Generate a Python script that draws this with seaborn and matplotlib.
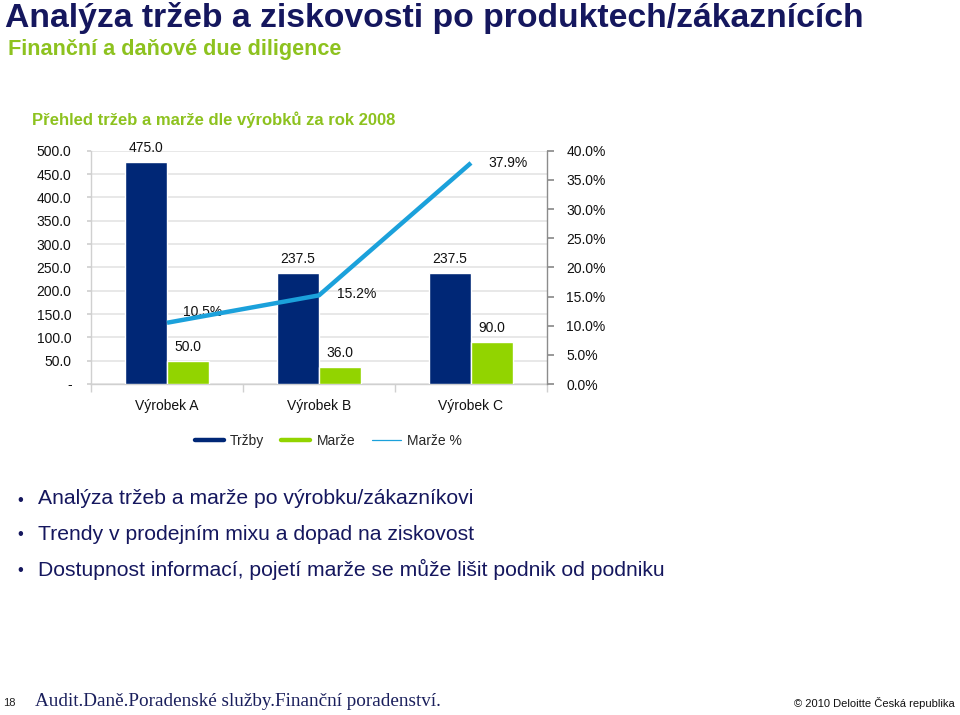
import matplotlib
matplotlib.use('Agg')
import matplotlib.pyplot as plt
from matplotlib.lines import Line2D
from matplotlib.ticker import FuncFormatter, MultipleLocator
import numpy as np
import pandas as pd
import seaborn as sns

# ---- data ----
products = ['Výrobek A', 'Výrobek B', 'Výrobek C']
trzby = [475.0, 237.5, 237.5]
marze = [50.0, 36.0, 90.0]
marze_pct = [10.5, 15.2, 37.9]
series_names = ['Tržby', 'Marže', 'Marže %']

title = 'Analýza tržeb a ziskovosti po produktech/zákaznících'
subtitle = 'Finanční a daňové due diligence'
heading = 'Přehled tržeb a marže dle výrobků za rok 2008'
bullets = ['Analýza tržeb a marže po výrobku/zákazníkovi',
           'Trendy v prodejním mixu a dopad na ziskovost',
           'Dostupnost informací, pojetí marže se může lišit podnik od podniku']
footer_left = 'Audit.Daně.Poradenské služby.Finanční poradenství.'
footer_right = '© 2010 Deloitte Česká republika'
page_no = '18'

# ---- style ----
NAVY = '#002776'
GREEN = '#92D400'
LINE = '#1BA1DB'
TITLE_C = '#15175E'
SUB_C = '#8DC21F'
TEXT_C = '#111111'

sns.set_theme(style='white')
plt.rcParams['font.family'] = ['Liberation Sans', 'DejaVu Sans']

W, H = 960, 715
fig = plt.figure(figsize=(W / 100, H / 100), dpi=100)
fig.patch.set_facecolor('white')

ax = fig.add_axes([91 / W, 1 - 384 / H, (547 - 91) / W, (384 - 150.7) / H])

df = pd.DataFrame({
    'Výrobek': products * 2,
    'Řada': [series_names[0]] * len(products) + [series_names[1]] * len(products),
    'Hodnota': trzby + marze,
})
sns.barplot(data=df, x='Výrobek', y='Hodnota', hue='Řada',
            palette=[NAVY, GREEN], width=0.553, saturation=1,
            ax=ax, legend=False, zorder=3)

for cont in ax.containers:
    ax.bar_label(cont, fmt='%.1f', padding=5, fontsize=10, color=TEXT_C)

ax.set_ylim(0, 500)
ax.set_xlim(-0.5, 2.5)
ax.yaxis.set_major_locator(MultipleLocator(50))
ax.yaxis.set_major_formatter(FuncFormatter(lambda v, p: '-' if v == 0 else f'{v:.1f}'))
ax.set_axisbelow(True)
ax.grid(axis='y', color='#E2E2E2', linewidth=1.1)
ax.grid(axis='x', visible=False)
ax.set_xlabel('')
ax.set_ylabel('')
for s in ['top', 'right']:
    ax.spines[s].set_visible(False)
for s in ['left', 'bottom']:
    ax.spines[s].set_color('#D0D0D0')
    ax.spines[s].set_linewidth(1.0)
ax.tick_params(axis='y', left=True, length=3, color='#D0D0D0', pad=11,
               labelsize=10, labelcolor=TEXT_C)
ax.set_xticks(range(len(products)))
ax.set_xticklabels(products)
ax.set_xticks([-0.5, 0.5, 1.5, 2.5], minor=True)
ax.tick_params(axis='x', which='major', length=0, pad=11, labelsize=10, labelcolor=TEXT_C)
ax.tick_params(axis='x', which='minor', bottom=True, length=6, color='#D0D0D0')

ax2 = ax.twinx()
sns.lineplot(x=np.arange(len(products)), y=marze_pct, ax=ax2, color=LINE,
             linewidth=3.2, solid_capstyle='butt', zorder=4)
ax2.set_ylim(0, 40)
ax2.set_xlim(-0.5, 2.5)
ax2.yaxis.set_major_locator(MultipleLocator(5))
ax2.yaxis.set_major_formatter(FuncFormatter(lambda v, p: f'{v:.1f}%'))
ax2.grid(False)
ax2.set_ylabel('')
for s in ['top', 'left', 'bottom']:
    ax2.spines[s].set_visible(False)
ax2.spines['right'].set_color('#8C8C8C')
ax2.spines['right'].set_linewidth(1.0)
ax2.tick_params(axis='y', right=True, length=5, color='#8C8C8C', pad=9,
                labelsize=10, labelcolor=TEXT_C)

label_offsets = [(36, 11), (38, 1), (37, 0)]
for i, (v, off) in enumerate(zip(marze_pct, label_offsets)):
    ax2.annotate(f'{v:.1f}%', xy=(i, v), xytext=off, textcoords='offset pixels',
                 ha='center', va='center', fontsize=10, color=TEXT_C)

handles = [Line2D([], [], color=NAVY, lw=3.2),
           Line2D([], [], color=GREEN, lw=3.2),
           Line2D([], [], color=LINE, lw=0.9)]
fig.legend(handles, series_names, loc='center', bbox_to_anchor=(0.342, 1 - 441 / H),
           ncol=3, frameon=False, handlelength=2.1, handletextpad=0.45,
           columnspacing=1.2, fontsize=10)

# ---- texts ----
fig.text(5 / W, 1 - 26.5 / H, title, fontsize=24.3, fontweight='bold', color=TITLE_C,
         ha='left', va='baseline')
fig.text(8 / W, 1 - 55 / H, subtitle, fontsize=15.6, fontweight='bold', color=SUB_C,
         ha='left', va='baseline')
fig.text(32 / W, 1 - 125 / H, heading, fontsize=12, fontweight='bold', color=SUB_C,
         ha='left', va='baseline')

for k, b in enumerate(bullets):
    yy = 1 - (499 + 35 * k) / H
    fig.text(17 / W, yy - 1 / H, '•', fontsize=12, color=TITLE_C, ha='left', va='center')
    fig.text(38 / W, yy, b, fontsize=15.2, color=TITLE_C, ha='left', va='center')

fig.text(3 / W, 1 - 703 / H, page_no, fontsize=8, color='#222222', ha='left', va='center')
fig.text(35 / W, 1 - 701 / H, footer_left, fontsize=13.8, color='#1A1F5C', ha='left',
         va='center', family=['Liberation Serif', 'DejaVu Serif'])
fig.text(955 / W, 1 - 703 / H, footer_right, fontsize=8, color='#111111', ha='right',
         va='center')

fig.savefig('out.png', dpi=100, facecolor='white')
